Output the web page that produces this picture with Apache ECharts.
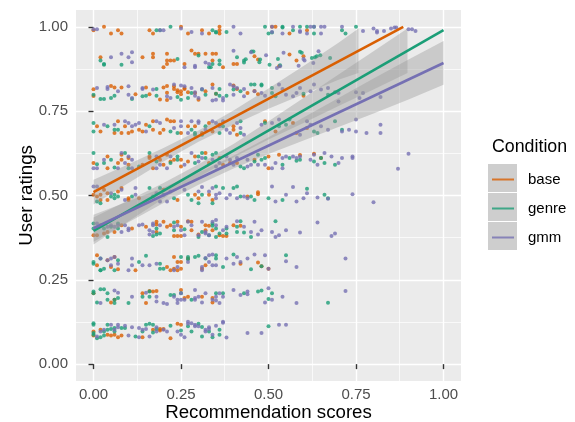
<!DOCTYPE html>
<html>
<head>
<meta charset="utf-8">
<script src="https://cdn.jsdelivr.net/npm/echarts@6/dist/echarts.min.js"></script>
<style>
  html, body { margin: 0; padding: 0; background: #fff; }
  #chart { width: 575px; height: 422px; }
</style>
</head>
<body>
<div id="chart"></div>
<script>
// jittered points, [recommendation score, user rating]
const base = [
  [0,.99],[.03,1.0],[.05,.98],[.07,.99],[.08,.98],[.16,.99],[.17,.98],[.25,1.0],[.27,.98],[.31,.99],[.33,.98],[.36,1.0],[.36,.99],[.36,.98],[.51,1.0],[.52,1.0],[.56,.98],[.61,.99],
  [.02,.91],[.14,.91],[.17,.92],[.17,.91],[.20,.88],[.21,.89],[.21,.92],[.21,.90],[.22,.90],[.23,.90],[.26,.89],[.28,.93],[.29,.92],[.30,.92],[.32,.92],[.34,.92],[.35,.92],[.34,.90],[.37,.88],[.40,.89],[.41,.89],[.46,.913],[.47,.903],[.53,.883],[.56,.918],[.58,.90],[.60,.913],
  [0,.815],[0,.795],[.05,.825],[.06,.82],[.08,.82],[.12,.80],[.15,.82],[.16,.80],[.19,.785],[.20,.82],[.21,.825],[.21,.805],[.21,.783],[.23,.824],[.23,.816],[.24,.812],[.24,.806],[.25,.809],[.25,.80],[.26,.819],[.26,.816],[.27,.806],[.29,.804],[.30,.784],[.32,.809],[.34,.829],[.35,.802],[.40,.826],[.41,.816],[.44,.804],[.46,.81],[.47,.80],[.60,.796],
  [.01,.705],[.02,.69],[.07,.72],[.06,.685],[.09,.705],[.08,.685],[.10,.685],[.11,.69],[.13,.695],[.14,.69],[.15,.71],[.17,.72],[.17,.695],[.19,.685],[.20,.695],[.21,.725],[.22,.72],[.23,.72],[.25,.685],[.27,.705],[.29,.705],[.31,.685],[.33,.715],[.34,.69],[.36,.71],[.40,.705],[.40,.695],[.41,.68],[.49,.72],[.52,.69],[.57,.715],[.58,.685],[.61,.70],
  [0,.596],[.04,.616],[.04,.581],[.07,.596],[.08,.606],[.08,.621],[.10,.611],[.10,.591],[.14,.591],[.16,.611],[.16,.616],[.17,.581],[.19,.606],[.20,.591],[.21,.621],[.22,.601],[.23,.606],[.25,.606],[.25,.586],[.27,.601],[.29,.616],[.32,.626],[.33,.596],[.36,.611],[.37,.591],[.39,.596],[.41,.596],[.46,.606],[.50,.581],[.50,.616],[.53,.621],[.59,.62],[.63,.624],[.65,.611],
  [0,.502],[.01,.497],[.02,.487],[.02,.502],[.03,.517],[.04,.507],[.04,.487],[.07,.512],[.08,.522],[.10,.492],[.10,.487],[.13,.492],[.20,.517],[.24,.487],[.29,.502],[.30,.492],[.33,.502],[.34,.487],[.44,.497],[.47,.504],[.47,.51],
  [0,.382],[.01,.382],[.02,.412],[.03,.387],[.04,.392],[.08,.412],[.06,.392],[.11,.402],[.15,.407],[.18,.422],[.18,.414],[.18,.392],[.20,.422],[.21,.407],[.22,.412],[.23,.38],[.24,.38],[.24,.422],[.25,.407],[.25,.38],[.27,.424],[.28,.397],[.28,.422],[.30,.384],[.32,.412],[.32,.397],[.33,.41],[.34,.397],[.36,.382],[.37,.38],[.38,.38],[.40,.412],[.42,.41],
  [.01,.323],[.01,.293],[.04,.308],[.05,.288],[.06,.318],[.07,.281],[.12,.278],[.21,.288],[.22,.278],[.23,.283],[.24,.278],[.25,.283],[.23,.318],[.24,.303],[.25,.303],[.27,.313],[.31,.283],[.32,.293],[.42,.298],[.47,.301],[.48,.29],[.50,.283],
  [0,.21],[.05,.183],[.06,.191],[.14,.21],[.15,.181],[.16,.217],[.17,.215],[.18,.217],[.25,.22],[.26,.196],[.27,.20],[.31,.20],[.34,.196],[.34,.183],
  [0,.097],[0,.085],[.02,.102],[.04,.087],[.05,.085],[.06,.087],[.07,.08],[.08,.085],[.14,.08],[.17,.102],[.19,.104],[.19,.1],[.20,.104],[.22,.077],[.24,.12],[.25,.117]
];
const genre = [
  [.18,.99],[.19,.99],[.22,1.0],[.34,.99],[.35,.985],[.35,.983],[.38,.985],[.49,1.0],[.50,.98],[.51,.983],[.54,1.0],[.54,.998],[.57,.99],[.59,1.0],[.61,1.0],[.63,1.0],[.63,.98],[.71,.99],[.72,.98],[.75,1.0],
  [.02,.90],[.03,.89],[.03,.888],[.08,.888],[.24,.905],[.30,.915],[.33,.88],[.335,.88],[.34,.89],[.36,.90],[.36,.889],[.41,.91],[.43,.90],[.43,.894],[.435,.904],[.452,.927],[.457,.927],[.476,.903],[.474,.895],[.503,.888],[.527,.905],[.533,.886],[.59,.926],[.595,.923],[.624,.908],[.633,.91],[.638,.913],[.648,.916],[.676,.908],
  [0,.799],[.02,.786],[.03,.786],[.05,.789],[.06,.796],[.11,.786],[.14,.794],[.15,.796],[.18,.816],[.18,.796],[.24,.792],[.25,.784],[.27,.789],[.28,.804],[.31,.814],[.32,.799],[.35,.802],[.36,.816],[.36,.796],[.38,.796],[.40,.814],[.42,.809],[.45,.829],[.46,.829],[.48,.829],[.48,.826],[.51,.819],[.51,.804],[.52,.794],[.60,.802],[.67,.799],[.69,.806],
  [0,.715],[0,.69],[.04,.705],[.06,.695],[.07,.695],[.16,.705],[.22,.69],[.24,.685],[.28,.695],[.29,.685],[.29,.68],[.31,.68],[.32,.705],[.36,.685],[.37,.705],[.42,.685],[.42,.72],[.49,.715],[.53,.705],[.55,.71],[.56,.725],[.63,.69],[.64,.685],[.69,.72],[.71,.695],
  [0,.626],[.01,.593],[.03,.596],[.05,.606],[.06,.583],[.09,.626],[.10,.581],[.13,.586],[.16,.626],[.18,.601],[.22,.596],[.24,.606],[.24,.616],[.29,.596],[.30,.616],[.31,.626],[.32,.611],[.34,.621],[.35,.626],[.42,.586],[.43,.581],[.46,.601],[.47,.621],[.48,.606],[.49,.611],[.54,.591],[.56,.611],[.58,.603],[.59,.606],[.63,.601],[.65,.611],[.66,.596],[.69,.591],
  [.01,.482],[.02,.477],[.05,.497],[.06,.492],[.06,.502],[.07,.497],[.11,.497],[.16,.522],[.17,.497],[.19,.522],[.20,.502],[.23,.492],[.27,.502],[.28,.487],[.30,.477],[.31,.502],[.34,.477],[.35,.527],[.37,.522],[.40,.522],[.41,.527],[.42,.497],[.45,.497],[.46,.487],[.50,.492],[.54,.487],[.61,.52],[.66,.502],[.67,.492],
  [0,.417],[0,.402],[.03,.402],[.05,.407],[.07,.402],[.07,.417],[.04,.377],[.17,.38],[.18,.384],[.18,.402],[.19,.387],[.23,.42],[.23,.397],[.26,.40],[.30,.377],[.31,.392],[.33,.382],[.34,.41],[.34,.417],[.35,.402],[.35,.377],[.36,.387],[.38,.402],[.38,.387],[.41,.407],[.41,.392],[.43,.39],[.42,.424],[.45,.377],[.52,.424],
  [0,.298],[0,.303],[.02,.278],[.02,.278],[.03,.283],[.02,.313],[.07,.308],[.06,.278],[.13,.303],[.15,.321],[.19,.298],[.19,.283],[.20,.283],[.25,.318],[.27,.318],[.27,.311],[.29,.318],[.30,.321],[.32,.313],[.35,.323],[.35,.313],[.37,.288],[.40,.325],[.45,.281],[.48,.29],[.55,.323],
  [0,.215],[0,.21],[.01,.183],[.02,.222],[.03,.222],[.04,.21],[.04,.191],[.06,.191],[.06,.181],[.07,.196],[.10,.181],[.14,.20],[.16,.20],[.16,.215],[.22,.205],[.23,.205],[.25,.21],[.28,.191],[.35,.21],[.37,.21],[.43,.21],[.47,.215],[.48,.218],[.50,.193],[.51,.21],[.67,.182],
  [0,.121],[0,.117],[0,.092],[0,.087],[.01,.077],[.02,.08],[.03,.085],[.03,.097],[.04,.117],[.04,.102],[.05,.104],[.06,.107],[.06,.097],[.08,.107],[.09,.107],[.12,.082],[.14,.097],[.15,.117],[.16,.12],[.17,.117],[.17,.094],[.18,.104],[.22,.114],[.25,.10],[.27,.112],[.28,.097],[.30,.12],[.31,.11],[.31,.082],[.33,.097],[.34,.08],[.36,.102],[.36,.087],[.50,.112]
];
const gmm = [
  [0,.993],[.01,.993],[.19,.99],[.20,.99],[.25,.995],[.28,.985],[.31,.98],[.40,1.0],[.42,.98],[.51,1.0],[.51,.985],[.54,.98],[.57,1.0],[.59,.985],[.59,.988],[.61,.98],[.62,1.0],[.63,1.0],[.65,1.0],[.66,1.0],[.65,.98],[.71,1.0],[.77,.988],[.80,.995],[.81,.983],[.81,.988],[.83,.988],[.85,.995],[.86,.998],[.865,.998],[.90,.993],[.91,.993],[.92,.988],
  [.05,.91],[.08,.92],[.11,.925],[.10,.91],[.11,.895],[.26,.88],[.29,.885],[.29,.88],[.32,.894],[.33,.89],[.40,.929],[.45,.925],[.493,.916],[.524,.878],[.533,.883],[.543,.923],[.586,.885],[.60,.905],[.603,.90],[.643,.928],[.628,.893],
  [.01,.819],[.04,.822],[.04,.816],[.07,.809],[.10,.824],[.10,.799],[.11,.789],[.14,.816],[.14,.819],[.17,.814],[.21,.794],[.22,.789],[.23,.829],[.25,.826],[.26,.824],[.28,.819],[.29,.806],[.29,.796],[.30,.789],[.31,.816],[.34,.819],[.34,.782],[.35,.784],[.37,.789],[.37,.782],[.39,.829],[.40,.824],[.41,.819],[.40,.799],[.43,.816],[.43,.794],[.46,.809],[.48,.804],[.49,.796],[.53,.829],[.54,.816],[.55,.799],[.57,.794],[.58,.804],[.59,.819],[.62,.809],[.63,.829],[.65,.814],[.67,.819],[.70,.779],[.70,.804],[.75,.806],[.76,.789],[.77,.804],[.82,.792],
  [.03,.71],[.06,.71],[.09,.72],[.10,.715],[.11,.705],[.12,.71],[.13,.715],[.15,.69],[.18,.72],[.19,.715],[.23,.70],[.25,.705],[.25,.72],[.27,.685],[.28,.72],[.30,.72],[.30,.715],[.32,.695],[.34,.72],[.35,.715],[.36,.705],[.37,.72],[.38,.695],[.39,.685],[.41,.715],[.42,.70],[.43,.68],[.48,.71],[.51,.715],[.53,.725],[.59,.68],[.61,.72],[.62,.71],[.65,.705],[.67,.695],[.71,.69],[.75,.725],[.73,.695],[.75,.69],[.78,.685],[.82,.685],[.82,.71],
  [0,.581],[.01,.581],[.03,.606],[.07,.581],[.08,.626],[.09,.596],[.10,.616],[.11,.606],[.11,.581],[.18,.581],[.18,.616],[.19,.591],[.21,.581],[.22,.616],[.26,.591],[.28,.626],[.30,.601],[.31,.611],[.34,.606],[.35,.586],[.36,.596],[.38,.616],[.39,.606],[.40,.591],[.41,.611],[.44,.606],[.44,.586],[.45,.591],[.47,.591],[.49,.591],[.51,.581],[.52,.596],[.54,.581],[.54,.611],[.55,.616],[.57,.616],[.58,.611],[.59,.616],[.62,.606],[.63,.621],[.64,.591],[.66,.626],[.68,.616],[.70,.596],[.71,.611],[.74,.616],[.74,.611],[.87,.579],[.90,.624],
  [0,.527],[.01,.527],[.05,.507],[.08,.517],[.09,.487],[.12,.522],[.12,.502],[.18,.507],[.19,.482],[.21,.482],[.22,.512],[.26,.517],[.30,.512],[.31,.525],[.33,.512],[.34,.522],[.35,.502],[.35,.492],[.36,.507],[.38,.492],[.39,.502],[.41,.492],[.43,.497],[.44,.492],[.51,.527],[.52,.482],[.55,.502],[.57,.525],[.58,.482],[.60,.492],[.61,.507],[.64,.494],[.67,.49],[.74,.504],[.80,.48],
  [.01,.417],[.04,.407],[.05,.412],[.06,.407],[.07,.412],[.08,.392],[.09,.412],[.10,.397],[.10,.402],[.13,.412],[.14,.414],[.16,.397],[.17,.412],[.17,.417],[.16,.384],[.17,.392],[.19,.412],[.23,.407],[.24,.412],[.25,.397],[.27,.422],[.28,.412],[.26,.382],[.30,.382],[.31,.422],[.32,.392],[.32,.387],[.33,.382],[.34,.422],[.35,.427],[.35,.412],[.37,.397],[.38,.407],[.41,.424],[.43,.407],[.45,.392],[.46,.422],[.47,.384],[.48,.397],[.51,.392],[.52,.377],[.53,.382],[.55,.397],[.59,.39],[.64,.42],[.68,.38],[.69,.387],
  [.02,.313],[.04,.308],[.05,.313],[.05,.293],[.06,.318],[.07,.298],[.11,.313],[.10,.278],[.11,.293],[.14,.293],[.16,.293],[.18,.298],[.23,.278],[.24,.288],[.27,.303],[.31,.288],[.31,.278],[.32,.315],[.33,.303],[.33,.323],[.34,.325],[.34,.293],[.35,.293],[.38,.313],[.40,.298],[.41,.318],[.42,.303],[.44,.313],[.46,.325],[.49,.323],[.50,.283],[.55,.305],[.58,.288],[.72,.313],
  [.02,.181],[.06,.218],[.07,.212],[.11,.20],[.15,.212],[.18,.186],[.18,.20],[.20,.181],[.21,.178],[.23,.20],[.24,.181],[.24,.191],[.25,.191],[.25,.21],[.26,.191],[.29,.22],[.29,.196],[.29,.191],[.30,.20],[.31,.183],[.32,.21],[.34,.191],[.35,.189],[.35,.20],[.36,.181],[.36,.21],[.37,.20],[.40,.22],[.42,.205],[.44,.215],[.44,.207],[.49,.183],[.50,.225],[.51,.191],[.54,.20],[.58,.181],[.72,.217],
  [.01,.082],[.02,.097],[.03,.102],[.05,.117],[.06,.102],[.07,.109],[.07,.117],[.09,.114],[.10,.085],[.11,.109],[.13,.08],[.13,.107],[.14,.102],[.15,.104],[.16,.082],[.18,.097],[.18,.109],[.20,.102],[.21,.097],[.24,.097],[.25,.087],[.26,.08],[.27,.12],[.27,.126],[.28,.121],[.29,.112],[.29,.117],[.30,.112],[.32,.102],[.32,.097],[.33,.104],[.33,.109],[.34,.087],[.35,.114],[.37,.126],[.37,.123],[.38,.079],[.44,.092],[.48,.092],[.53,.117],[.55,.117]
];

// fitted lines (end points) and confidence bands
const baseFit = [[0, .51], [.885, 1.0]];
const genreFit = [[0, .395], [1, .99]];
const gmmFit = [[0, .403], [1, .893]];

const baseBandX = [0, .1, .2, .3, .4, .5, .6, .7, .757];
const baseBandLo = [.473, .537, .601, .659, .710, .757, .800, .843, .863];
const baseBandHi = [.547, .593, .641, .693, .752, .817, .884, .953, .995];
const genreBandX = [0, .1, .2, .3, .4, .5, .6, .7, .8, .897];
const genreBandLo = [.355, .424, .491, .555, .613, .666, .715, .765, .814, .863];
const genreBandHi = [.435, .486, .537, .593, .653, .72, .789, .859, .928, .995];
const gmmBandX = [0, .1, .2, .3, .4, .5, .6, .7, .8, .9, 1];
const gmmBandLo = [.363, .421, .478, .532, .58, .623, .663, .703, .743, .785, .828];
const gmmBandHi = [.443, .483, .524, .568, .618, .673, .731, .789, .847, .903, .958];

const conditions = ['base', 'genre', 'gmm'];
const colors = ['#D95F02', '#1B9E77', '#7570B3'];
const majorTicks = [0, .25, .5, .75, 1];
const minorTicks = [.125, .375, .625, .875];

const FONT = 'Liberation Sans, Arial, sans-serif';

function bandSeries(xs, lo, hi) {
  return {
    type: 'custom',
    silent: true,
    xAxisIndex: 0, yAxisIndex: 0,
    data: [[xs[0], lo[0]]],
    z: 3,
    renderItem: function (params, api) {
      const pts = [];
      xs.forEach((x, i) => pts.push(api.coord([x, hi[i]])));
      for (let i = xs.length - 1; i >= 0; i--) pts.push(api.coord([xs[i], lo[i]]));
      return { type: 'polygon', shape: { points: pts }, style: { fill: 'rgba(153,153,153,0.4)' } };
    }
  };
}

function scatterSeries(name, data, color) {
  return {
    name: name, type: 'scatter', data: data, symbolSize: 4,
    itemStyle: { color: color }, z: 2, silent: true
  };
}

function lineSeries(name, data, color) {
  return {
    name: name, type: 'line', data: data, symbol: 'none', z: 4, silent: true,
    lineStyle: { color: color, width: 2.6 }, itemStyle: { color: color }
  };
}

function tickLabel(margin) {
  return { customValues: majorTicks, color: '#4D4D4D', fontSize: 15, fontFamily: FONT, margin: margin,
    formatter: v => v.toFixed(2) };
}

function axisBase(extra) {
  return Object.assign({
    type: 'value', min: -0.05, max: 1.05,
    axisLine: { show: false },
    axisTick: { show: true, length: 5, customValues: majorTicks, lineStyle: { color: '#333333', width: 1.4 } },
    splitLine: { show: true, lineStyle: { color: '#FFFFFF', width: 1.4 } },
    nameMoveOverlap: false,
    nameTextStyle: { color: '#000', fontSize: 18.7, fontFamily: FONT }
  }, extra);
}

function minorAxis(extra) {
  return Object.assign({
    type: 'value', min: -0.05, max: 1.05,
    axisLine: { show: false },
    axisTick: { show: false, customValues: minorTicks },
    axisLabel: { show: false, customValues: minorTicks },
    splitLine: { show: true, lineStyle: { color: '#FFFFFF', width: 0.7 } }
  }, extra);
}

const chart = echarts.init(document.getElementById('chart'), null, { renderer: 'canvas' });
chart.setOption({
  animation: false,
  backgroundColor: '#FFFFFF',
  grid: { left: 76, right: 114, top: 10, bottom: 41, show: true, backgroundColor: '#EBEBEB', borderWidth: 0,
    containLabel: false, outerBoundsMode: 'none' },
  xAxis: [
    axisBase({ name: 'Recommendation scores', nameLocation: 'middle', nameGap: 22, axisLabel: tickLabel(6) }),
    minorAxis({ position: 'bottom' })
  ],
  yAxis: [
    axisBase({ name: 'User ratings', nameLocation: 'middle', nameGap: 40, axisLabel: tickLabel(8) }),
    minorAxis({ position: 'left' })
  ],
  title: {
    text: 'Condition', left: 487, top: 133,
    textStyle: { fontSize: 17.8, fontWeight: 'normal', color: '#000', fontFamily: FONT }
  },
  legend: {
    data: conditions, orient: 'vertical', left: 487, top: 166,
    icon: 'rect', itemWidth: 22, itemHeight: 2, itemGap: 12,
    textStyle: { fontSize: 15, lineHeight: 17, color: '#000', fontFamily: FONT, padding: [0, 0, 0, 9] }
  },
  graphic: conditions.map((c, i) => ({
    type: 'rect', left: 488, top: 164 + i * 29, z: -1,
    shape: { width: 29, height: 28 },
    style: { fill: '#CECECE' }
  })),
  series: [
    scatterSeries('base', base, colors[0]),
    scatterSeries('genre', genre, colors[1]),
    scatterSeries('gmm', gmm, colors[2]),
    bandSeries(baseBandX, baseBandLo, baseBandHi),
    bandSeries(genreBandX, genreBandLo, genreBandHi),
    bandSeries(gmmBandX, gmmBandLo, gmmBandHi),
    lineSeries('base', baseFit, colors[0]),
    lineSeries('genre', genreFit, colors[1]),
    lineSeries('gmm', gmmFit, colors[2])
  ]
});
</script>
</body>
</html>
